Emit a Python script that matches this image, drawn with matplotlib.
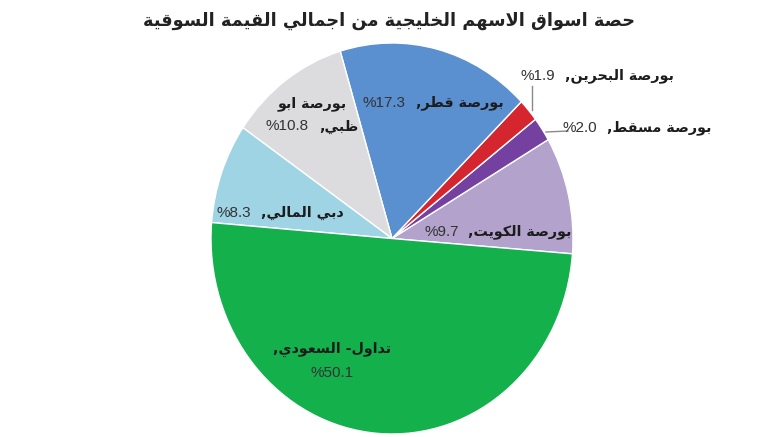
import matplotlib
matplotlib.use("Agg")
import matplotlib.pyplot as plt
from matplotlib.offsetbox import TextArea, HPacker, VPacker, AnnotationBbox
from matplotlib.lines import Line2D

# ---------------- data ----------------
title_text = "حصة اسواق الاسهم الخليجية من اجمالي القيمة السوقية"
names = ["بورصة الكويت", "بورصة مسقط", "بورصة البحرين", "بورصة قطر",
         "بورصة ابو ظبي", "دبي المالي", "تداول- السعودي"]
values = [9.7, 2.0, 1.9, 17.3, 10.8, 8.3, 50.1]
colors = ["#b3a3cc", "#7441a0", "#d5262f", "#5a8fd0", "#dcdcdf", "#9fd4e4", "#13b04c"]

# ------------- minimal Arabic shaping -------------
DUAL = {'ب': 0xFE8F, 'ت': 0xFE95, 'ث': 0xFE99, 'ج': 0xFE9D, 'ح': 0xFEA1, 'خ': 0xFEA5,
        'س': 0xFEB1, 'ش': 0xFEB5, 'ص': 0xFEB9, 'ض': 0xFEBD, 'ط': 0xFEC1, 'ظ': 0xFEC5,
        'ع': 0xFEC9, 'غ': 0xFECD, 'ف': 0xFED1, 'ق': 0xFED5, 'ك': 0xFED9, 'ل': 0xFEDD,
        'م': 0xFEE1, 'ن': 0xFEE5, 'ه': 0xFEE9, 'ي': 0xFEF1}
RIGHT = {'ا': 0xFE8D, 'أ': 0xFE83, 'إ': 0xFE87, 'آ': 0xFE81, 'ة': 0xFE93, 'د': 0xFEA9,
         'ذ': 0xFEAB, 'ر': 0xFEAD, 'ز': 0xFEAF, 'و': 0xFEED, 'ى': 0xFEEF}
LAMALEF = {'ا': 0xFEFB, 'أ': 0xFEF7, 'إ': 0xFEF9, 'آ': 0xFEF5}


def shape(s):
    toks = []
    i = 0
    while i < len(s):
        c = s[i]
        if c == 'ل' and i + 1 < len(s) and s[i + 1] in LAMALEF:
            toks.append(('LA', s[i + 1]))
            i += 2
        else:
            toks.append((c, None))
            i += 1

    def jt(t):
        if t[0] == 'LA' or t[0] in RIGHT:
            return 'R'
        if t[0] in DUAL:
            return 'D'
        return 'U'

    out = []
    for k, t in enumerate(toks):
        typ = jt(t)
        pj = k > 0 and jt(toks[k - 1]) == 'D'
        nj = k + 1 < len(toks) and jt(toks[k + 1]) in ('D', 'R')
        c = t[0]
        if typ == 'U':
            out.append(c)
        elif c == 'LA':
            out.append(chr(LAMALEF[t[1]] + (1 if pj else 0)))
        elif typ == 'R':
            out.append(chr(RIGHT[c] + (1 if pj else 0)))
        else:
            f = 3 if (pj and nj) else 1 if pj else 2 if nj else 0
            out.append(chr(DUAL[c] + f))
    return ''.join(out)[::-1]


W, H = 770, 437
fig = plt.figure(figsize=(W / 100, H / 100), dpi=100)
fig.patch.set_facecolor("white")

# pie: slightly taller than wide, as in the reference
ax = fig.add_axes([211 / W, 3 / H, 362 / W, 391 / H])
ax.pie(values, colors=colors, startangle=-4.5, counterclock=True,
       wedgeprops=dict(edgecolor="white", linewidth=1.0))
ax.set_aspect("auto")
ax.set_xlim(-1, 1)
ax.set_ylim(-1, 1)
ax.axis("off")

fig.text(389 / W, 1 - 21 / H, shape(title_text), ha="center", va="center",
         fontsize=12.8, fontweight="bold", color="#222222", family="DejaVu Sans")

AR = dict(fontsize=10.3, fontweight="bold", color="#1c1c1c", family="DejaVu Sans")
NUM = dict(fontsize=11, color="#333333", family="Liberation Sans")


def fp(x, y):
    return (x / W, 1 - y / H)


def place(box, x, y):
    ab = AnnotationBbox(box, fp(x, y), xycoords="figure fraction", frameon=False,
                        box_alignment=(0.5, 0.5), pad=0)
    fig.add_artist(ab)


def one_line(name, val, x, y):
    box = HPacker(children=[TextArea(f"%{val:.1f}", textprops=NUM),
                            TextArea(shape(name + ","), textprops=AR)],
                  align="baseline", pad=0, sep=7)
    place(box, x, y)


# label positions (pixels)
one_line(names[0], values[0], 498, 232)   # Kuwait
one_line(names[1], values[1], 637, 128)   # Muscat
one_line(names[2], values[2], 597, 76)    # Bahrain
one_line(names[3], values[3], 433, 103)   # Qatar
one_line(names[5], values[5], 280, 213)   # Dubai

# Abu Dhabi: two lines
ad_words = names[4].split(" ")
l1 = TextArea(shape(" ".join(ad_words[:2])), textprops=AR)
l2 = HPacker(children=[TextArea(f"%{values[4]:.1f}", textprops=NUM),
                       TextArea(shape(ad_words[2] + ","), textprops=AR)],
             align="baseline", pad=0, sep=7)
place(VPacker(children=[l1, l2], align="center", pad=0, sep=6), 312, 115)

# Saudi: two lines
s1 = TextArea(shape(names[6] + ","), textprops=AR)
s2 = TextArea(f"%{values[6]:.1f}", textprops=NUM)
place(VPacker(children=[s1, s2], align="center", pad=0, sep=7), 332, 361)

# leader lines
fig.add_artist(Line2D([532 / W, 532 / W], [1 - 110 / H, 1 - 86 / H],
                      transform=fig.transFigure, color="#8a8a8a", lw=1))
fig.add_artist(Line2D([546 / W, 568 / W], [1 - 132 / H, 1 - 131 / H],
                      transform=fig.transFigure, color="#8a8a8a", lw=1))

fig.savefig("out.png", dpi=100)
